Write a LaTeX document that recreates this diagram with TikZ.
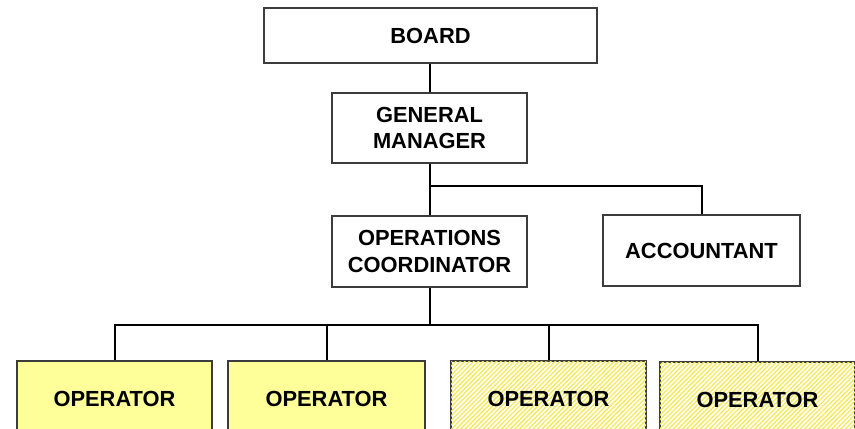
\documentclass[tikz,border=0pt]{standalone}
\usepackage{fontspec}
\setmainfont{Liberation Sans}
\usetikzlibrary{patterns.meta}
\definecolor{opyellow}{RGB}{255,255,153}
\definecolor{hatchyellow}{RGB}{245,234,90}
\definecolor{boxline}{RGB}{60,60,60}
\tikzset{
  orgbox/.style={draw=boxline, line width=0.9pt, fill=white, inner sep=0pt, align=center,
    font=\fontsize{16.4}{20}\selectfont\bfseries},
  opsolid/.style={orgbox, fill=opyellow, minimum width=146.25pt, minimum height=57pt},
  ophatch/.style={orgbox, fill=white, postaction={pattern={Lines[angle=45,distance=2.4pt,line width=1pt]}, pattern color=hatchyellow},
    minimum width=146.25pt, minimum height=57pt},
  link/.style={draw=black, line width=1.5pt}
}
\begin{document}
\begin{tikzpicture}[x=0.75pt,y=-0.75pt]
\clip (0,0) rectangle (855,428);
\fill[white] (0,0) rectangle (855,428);
\node[orgbox, minimum width=249.75pt, minimum height=41.25pt] (board) at (430.5,35.5) {BOARD};
\node[orgbox, minimum width=146.25pt, minimum height=52.5pt] (gm) at (429.5,128) {GENERAL\\MANAGER};
\node[orgbox, minimum width=146.25pt, minimum height=53.25pt] (oc) at (429.5,251.5) {OPERATIONS\\COORDINATOR};
\node[orgbox, minimum width=147.75pt, minimum height=53.25pt] (acc) at (701.5,250.5) {ACCOUNTANT};
\node[opsolid] (op1) at (114.5,399) {OPERATOR};
\node[opsolid, minimum width=147.75pt] (op2) at (326.5,399) {OPERATOR};
\node[ophatch] (op3) at (548.5,399) {OPERATOR};
\node[ophatch] (op4) at (757.5,400) {OPERATOR};
\draw[link] (gm.north |- board.south) -- (gm.north);
\draw[link] (gm.south) -- (oc.north);
\draw[link] (gm.south) -- ++(0,22) coordinate (j1) -| (acc.north);
\draw[link] (oc.south) -- ++(0,37) coordinate (bus);
\draw[link] (bus) -| (op1.north);
\draw[link] (bus) -| (op2.north);
\draw[link] (bus) -| (op3.north);
\draw[link] (bus) -| (op4.north);
\end{tikzpicture}
\end{document}
